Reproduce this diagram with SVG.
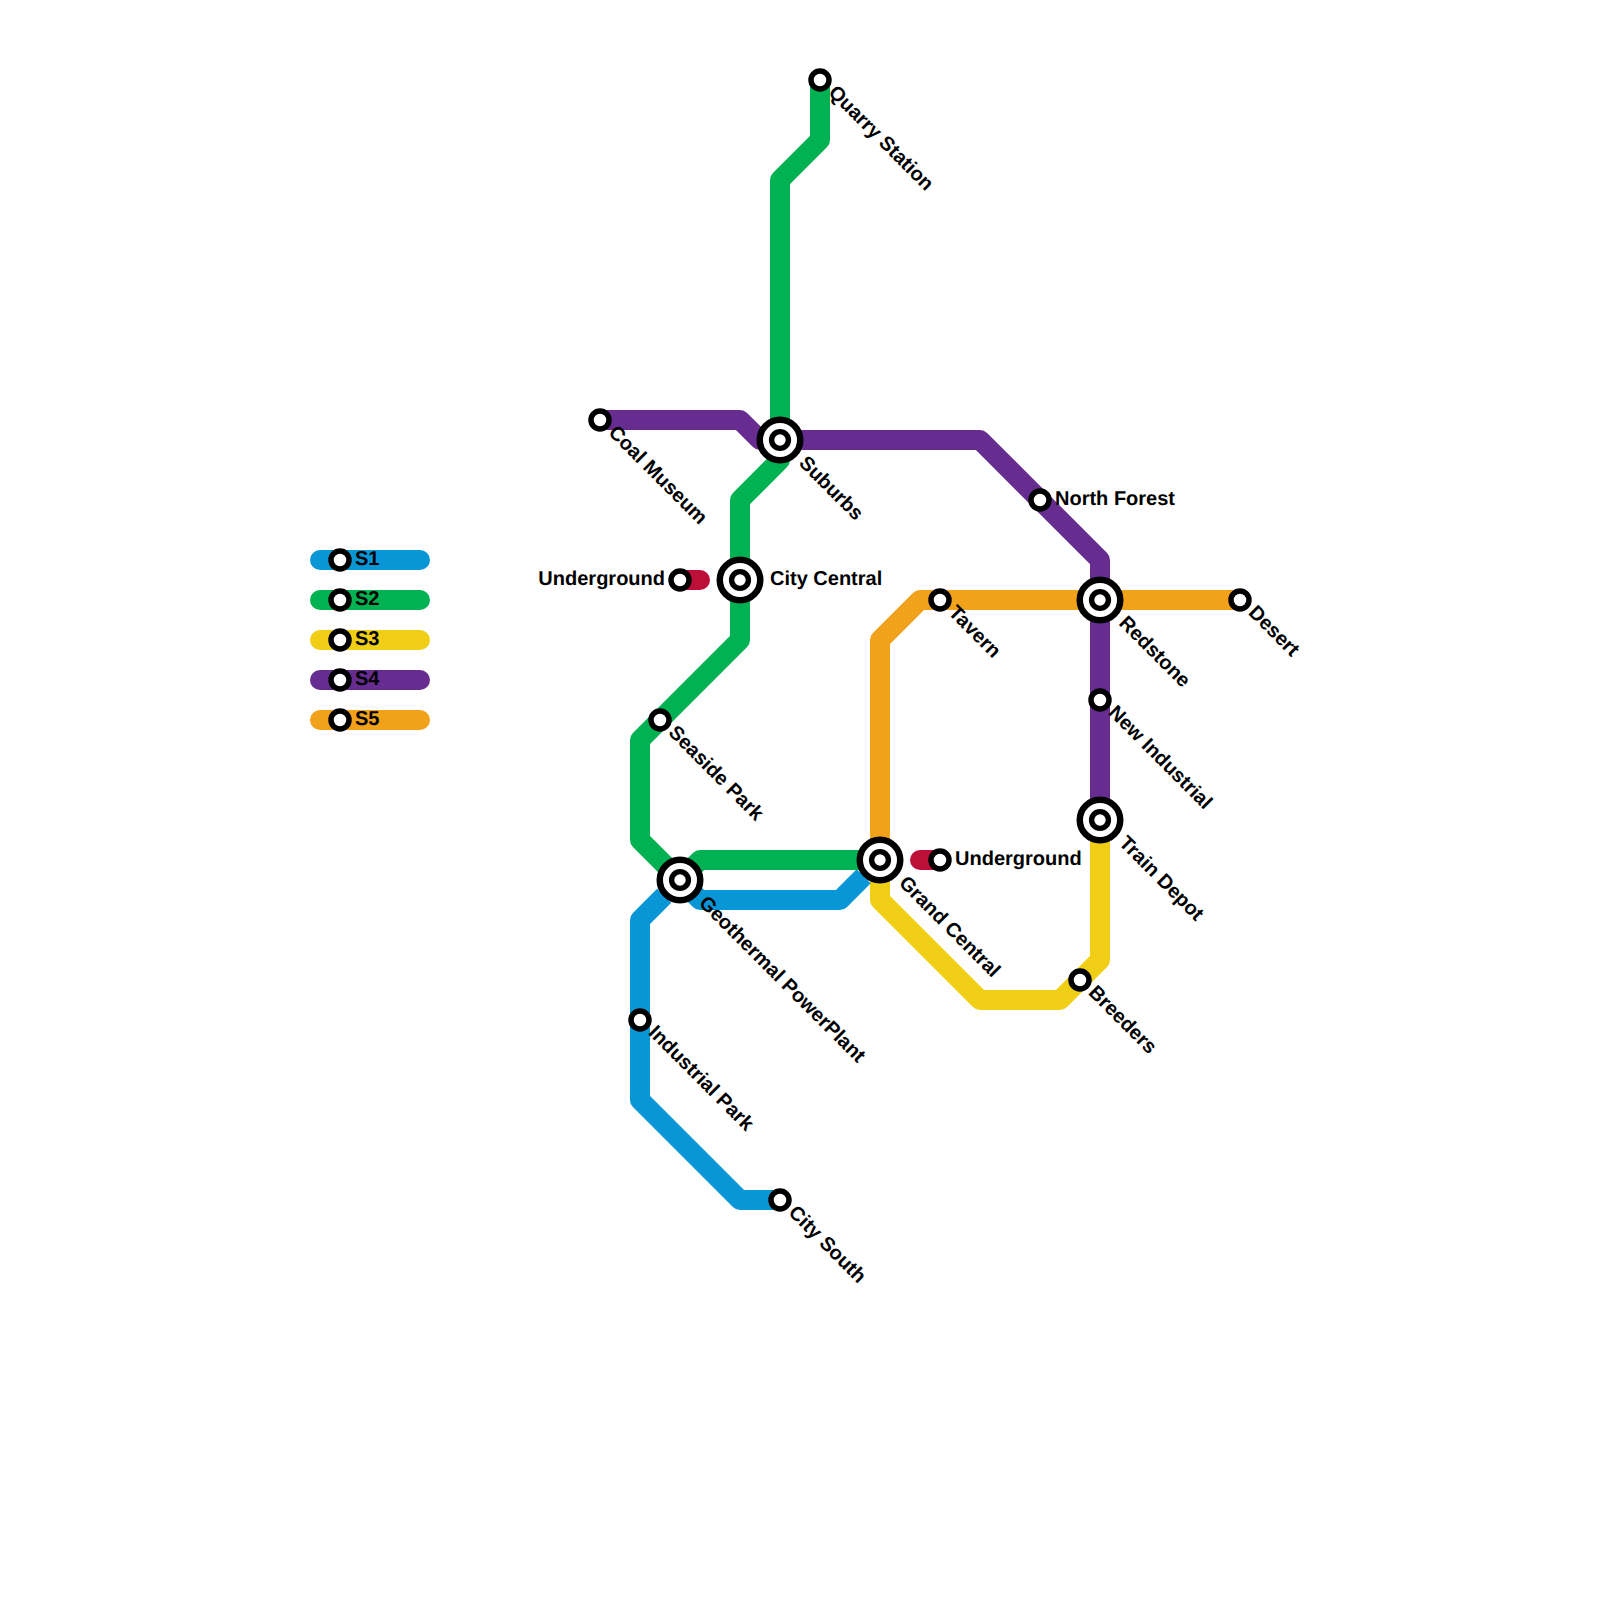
<svg xmlns="http://www.w3.org/2000/svg" width="1600" height="1600" viewBox="0 0 1600 1600">
<style>
.l{fill:none;stroke-width:20;stroke-linecap:round;stroke-linejoin:round}
.b{stroke-linecap:butt}
.s1{stroke:#0896d7}.s2{stroke:#00b251}.s3{stroke:#f0ce15}.s4{stroke:#662c90}.s5{stroke:#f2a11b}.u{stroke:#bd1038}
.st{fill:#fff;stroke:#000;stroke-width:5.5}
.ir{fill:#fff;stroke:#000;stroke-width:6.5}
.ic{fill:#fff;stroke:#000;stroke-width:5.4}
text{font-family:"Liberation Sans",Arial,sans-serif;font-size:20px;font-weight:700;fill:#000;text-rendering:geometricPrecision}
</style>
<defs>
<g id="stn"><circle class="st" r="9"/></g>
<g id="int"><circle class="ir" r="20.25"/><circle class="ic" r="8.4"/></g>
</defs>
<rect width="1600" height="1600" fill="#fff"/>
<g id="connectors">
<path class="l s5" d="M880 860V640L920 600H1240"/>
<path class="l s3" d="M880 860V900L980 1000H1060L1100 960V820"/>
<path class="l b s1" d="M863.7 876.3L840 900H700L680 880"/>
<path class="l b s1" d="M664.2 895.8L640 920V1100L740 1200H780"/>
<path class="l s2" d="M820 80V140L780 180V440V460L740 500V640L640 740V840L680 880L700 860H880"/>
<path class="l s4" d="M600 420H740L760 440H980L1100 560V820"/>
<path class="l u" d="M680 580H700"/>
<path class="l u" d="M920 860H940"/>
<path class="l s1" d="M320 560H420"/>
<path class="l s2" d="M320 600H420"/>
<path class="l s3" d="M320 640H420"/>
<path class="l s4" d="M320 680H420"/>
<path class="l s5" d="M320 720H420"/>
</g>
<g id="n-quarry"><use href="#stn" x="820" y="80"/><text transform="translate(827.5 93.5) rotate(45)">Quarry Station</text></g>
<g id="n-coal"><use href="#stn" x="600" y="420"/><text transform="translate(607.5 433.5) rotate(45)">Coal Museum</text></g>
<g id="n-suburbs"><use href="#int" x="780" y="440"/><text transform="translate(798 464) rotate(45)">Suburbs</text></g>
<g id="n-forest"><use href="#stn" x="1040" y="500"/><text x="1055" y="505">North Forest</text></g>
<g id="n-under1"><use href="#stn" x="680" y="580"/><text x="665" y="585" text-anchor="end">Underground</text></g>
<g id="n-central"><use href="#int" x="740" y="580"/><text x="770" y="585">City Central</text></g>
<g id="n-tavern"><use href="#stn" x="940" y="600"/><text transform="translate(947.5 613.5) rotate(45)">Tavern</text></g>
<g id="n-redstone"><use href="#int" x="1100" y="600"/><text transform="translate(1118 624) rotate(45)">Redstone</text></g>
<g id="n-desert"><use href="#stn" x="1240" y="600"/><text transform="translate(1247.5 613.5) rotate(45)">Desert</text></g>
<g id="n-newind"><use href="#stn" x="1100" y="700"/><text transform="translate(1107.5 713.5) rotate(45)">New Industrial</text></g>
<g id="n-seaside"><use href="#stn" x="660" y="720"/><text transform="translate(667.5 733.5) rotate(45)">Seaside Park</text></g>
<g id="n-depot"><use href="#int" x="1100" y="820"/><text transform="translate(1118 844) rotate(45)">Train Depot</text></g>
<g id="n-grand"><use href="#int" x="880" y="860"/><text transform="translate(898 884) rotate(45)">Grand Central</text></g>
<g id="n-under2"><use href="#stn" x="940" y="860"/><text x="955" y="865">Underground</text></g>
<g id="n-geo"><use href="#int" x="680" y="880"/><text transform="translate(698 904) rotate(45)">Geothermal PowerPlant</text></g>
<g id="n-breeders"><use href="#stn" x="1080" y="980"/><text transform="translate(1087.5 993.5) rotate(45)">Breeders</text></g>
<g id="n-indpark"><use href="#stn" x="640" y="1020"/><text transform="translate(647.5 1033.5) rotate(45)">Industrial Park</text></g>
<g id="n-south"><use href="#stn" x="780" y="1200"/><text transform="translate(787.5 1213.5) rotate(45)">City South</text></g>
<g id="legend">
<g id="leg-s1"><use href="#stn" x="340" y="560"/><text x="355" y="565">S1</text></g>
<g id="leg-s2"><use href="#stn" x="340" y="600"/><text x="355" y="605">S2</text></g>
<g id="leg-s3"><use href="#stn" x="340" y="640"/><text x="355" y="645">S3</text></g>
<g id="leg-s4"><use href="#stn" x="340" y="680"/><text x="355" y="685">S4</text></g>
<g id="leg-s5"><use href="#stn" x="340" y="720"/><text x="355" y="725">S5</text></g>
</g>
</svg>
